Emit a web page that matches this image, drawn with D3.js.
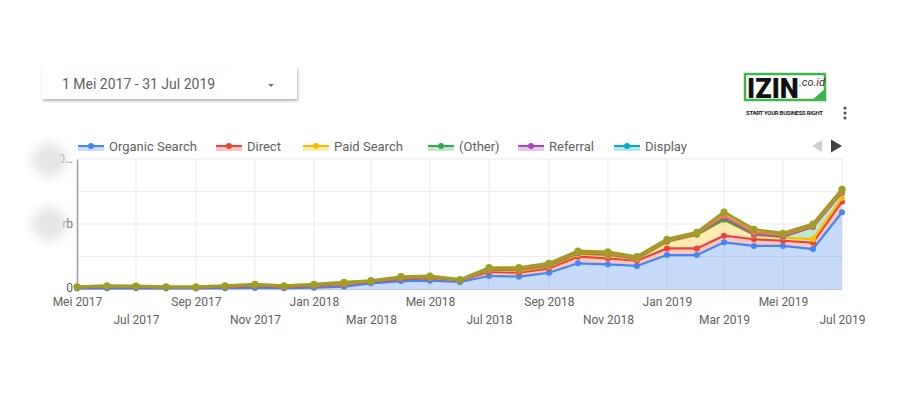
<!DOCTYPE html>
<html>
<head>
<meta charset="utf-8">
<script src="https://cdn.jsdelivr.net/npm/d3@7"></script>
<style>
  body { margin: 0; background: #fff; font-family: Roboto, "Noto Sans", sans-serif; }
  svg { display: block; }
</style>
</head>
<body>
<div class="chart"></div>
<script>
// monthly data, Mei 2017 .. Jul 2019
let months = ["2017-05", "2017-06", "2017-07", "2017-08", "2017-09", "2017-10", "2017-11", "2017-12",
  "2018-01", "2018-02", "2018-03", "2018-04", "2018-05", "2018-06", "2018-07", "2018-08", "2018-09",
  "2018-10", "2018-11", "2018-12", "2019-01", "2019-02", "2019-03", "2019-04", "2019-05", "2019-06", "2019-07"];

let organicSearch = [15, 20, 20, 15, 15, 25, 30, 25, 40, 70, 175, 245, 255, 215, 400, 380, 500, 790, 760, 710, 1045, 1045, 1435, 1325, 1325, 1230, 2360];
let direct = [30, 45, 40, 30, 30, 40, 60, 40, 50, 60, 40, 60, 70, 40, 125, 120, 135, 205, 185, 160, 205, 205, 205, 205, 160, 195, 325];
let paidSearch = [8, 12, 10, 8, 8, 12, 20, 12, 20, 25, 15, 25, 25, 12, 50, 60, 60, 70, 80, 45, 190, 410, 480, 130, 105, 105, 125];
let other = [5, 8, 7, 5, 5, 8, 10, 8, 10, 15, 8, 15, 15, 8, 20, 25, 25, 30, 30, 20, 20, 15, 15, 20, 25, 380, 155];
let referral = [2, 3, 3, 2, 2, 3, 5, 3, 5, 5, 3, 5, 5, 3, 15, 20, 20, 20, 25, 15, 20, 20, 70, 15, 10, 10, 10];
let display = [0, 0, 0, 0, 0, 0, 0, 0, 0, 0, 0, 0, 0, 0, 5, 5, 5, 5, 5, 5, 5, 5, 40, 35, 30, 15, 15];
let social = [0, 0, 0, 0, 0, 0, 0, 0, 0, 0, 0, 0, 0, 0, 0, 0, 0, 0, 0, 0, 0, 0, 10, 10, 5, 5, 5];
let email = [10, 12, 12, 10, 10, 12, 20, 12, 20, 30, 14, 30, 30, 12, 40, 45, 45, 50, 55, 40, 45, 45, 115, 95, 55, 60, 75];

let seriesNames = ["Organic Search", "Direct", "Paid Search", "(Other)", "Referral", "Display", "Social", "Email"];
let seriesValues = [organicSearch, direct, paidSearch, other, referral, display, social, email];
let colors = ["#4285f4", "#ea4335", "#fbbc04", "#34a853", "#ab47bc", "#00acc1", "#ff7043", "#9e9d24"];
let legendShown = 6; // the legend only has room for the first six

let yTicks = [0, 2000, 4000];
let yTickLabels = ["0", "2 rb", "4,0\u2026"];
let xTickLabels = ["Mei 2017", "Jul 2017", "Sep 2017", "Nov 2017", "Jan 2018", "Mar 2018", "Mei 2018", "Jul 2018",
  "Sep 2018", "Nov 2018", "Jan 2019", "Mar 2019", "Mei 2019", "Jul 2019"];

let W = 917, H = 419;
let margin = { top: 159, right: 75, bottom: 130, left: 77 };
let width = W - margin.left - margin.right;
let height = H - margin.top - margin.bottom;

let parse = d3.timeParse("%Y-%m");
let rows = months.map((m, i) => {
  let r = { date: parse(m) };
  seriesNames.forEach((s, k) => { r[s] = seriesValues[k][i]; });
  return r;
});

let svg = d3.select('.chart').append('svg')
  .attr('width', W).attr('height', H);

let defs = svg.append('defs');
defs.append('filter').attr('id', 'blur').attr('x', '-1').attr('y', '-1').attr('width', '3').attr('height', '3')
  .append('feGaussianBlur').attr('stdDeviation', 6);
defs.append('filter').attr('id', 'blur2').attr('x', '-1').attr('y', '-1').attr('width', '3').attr('height', '3')
  .append('feGaussianBlur').attr('stdDeviation', 2.5);
let sh = defs.append('filter').attr('id', 'shadow').attr('x', '-0.1').attr('y', '-0.3').attr('width', '1.2').attr('height', '1.8');
sh.append('feDropShadow').attr('dx', 1).attr('dy', 2).attr('stdDeviation', 1.5).attr('flood-color', '#000').attr('flood-opacity', 0.3);

// date range box
let box = svg.append('g');
box.append('rect').attr('x', 42).attr('y', 67).attr('width', 255).attr('height', 32)
  .attr('fill', '#fff').attr('filter', 'url(#shadow)');
box.append('text').attr('x', 62).attr('y', 89).attr('font-size', 14).attr('fill', '#616161')
  .text('1 Mei 2017 - 31 Jul 2019');
box.append('path').attr('d', 'M268,84 l6,0 l-3,3 z').attr('fill', '#757575');

// logo
let logo = svg.append('g');
logo.append('rect').attr('x', 745).attr('y', 74).attr('width', 80).attr('height', 26)
  .attr('fill', '#fff').attr('stroke', '#3cb64a').attr('stroke-width', 2.5);
logo.append('path').attr('d', 'M812,100 l14,0 l0,-12 z').attr('fill', '#3cb64a');
logo.append('text').attr('x', 747).attr('y', 98).attr('font-size', 27).attr('font-weight', 900)
  .attr('font-family', 'Roboto, sans-serif').attr('fill', '#111').text('IZIN');
logo.append('text').attr('x', 799).attr('y', 86).attr('font-size', 11).attr('fill', '#333')
  .attr('font-style', 'italic').text('.co.id');
logo.append('text').attr('x', 746).attr('y', 115).attr('font-size', 6).attr('font-weight', 700)
  .attr('textLength', 77).attr('fill', '#222').text('START YOUR BUSINESS RIGHT');
[108, 113, 118].forEach(y => logo.append('circle').attr('cx', 845).attr('cy', y).attr('r', 1.6).attr('fill', '#555'));

// scales
let x = d3.scaleTime()
  .domain([rows[0].date, rows[rows.length - 1].date])
  .range([margin.left, margin.left + width]);
let y = d3.scaleLinear().domain([0, 4000]).range([margin.top + height, margin.top]);

let stack = d3.stack().keys(seriesNames);
let layers = stack(rows);

// grid
let g = svg.append('g');
g.append('g').selectAll('line').data([1000, 2000, 3000, 4000]).join('line')
  .attr('x1', margin.left).attr('x2', margin.left + width)
  .attr('y1', d => y(d)).attr('y2', d => y(d))
  .attr('stroke', '#ebebeb');
let tickDates = rows.filter((r, i) => i % 2 === 0).map(r => r.date);
g.append('g').selectAll('line').data(tickDates.slice(1)).join('line')
  .attr('x1', d => x(d)).attr('x2', d => x(d))
  .attr('y1', margin.top).attr('y2', margin.top + height)
  .attr('stroke', '#ebebeb');

// areas and lines
let area = d3.area().x(d => x(d.data.date)).y0(d => y(d[0])).y1(d => y(d[1]));
let line = d3.line().x(d => x(d.data.date)).y(d => y(d[1]));

g.append('g').selectAll('path').data(layers).join('path')
  .attr('d', area).attr('fill', (d, i) => colors[i]).attr('fill-opacity', 0.3);

// axes
let yAxis = d3.axisLeft(y).tickValues(yTicks).tickSize(0).tickFormat((d, i) => yTickLabels[i]);
let ya = svg.append('g').attr('transform', `translate(${margin.left},0)`).call(yAxis);
ya.select('.domain').attr('stroke', '#9e9e9e').attr('stroke-width', 1.5);
ya.selectAll('text').attr('font-size', 12).attr('fill', '#616161').attr('dx', '-1')
  .attr('font-family', 'Roboto, sans-serif');
ya.selectAll('text').filter((d, i) => i === 0).attr('dy', '0.2em');

// blurred spots over the head of the y labels
[[49, 160], [49, 224]].forEach(p => {
  svg.append('ellipse').attr('cx', p[0]).attr('cy', p[1]).attr('rx', 17).attr('ry', 16)
    .attr('fill', '#e4e4e4').attr('filter', 'url(#blur)');
  svg.append('ellipse').attr('cx', p[0] + 2).attr('cy', p[1]).attr('rx', 10).attr('ry', 11)
    .attr('fill', '#e6e6e6').attr('filter', 'url(#blur2)');
});

svg.append('line').attr('x1', margin.left).attr('x2', margin.left + width)
  .attr('y1', y(0) + 0.5).attr('y2', y(0) + 0.5).attr('stroke', '#c8c8c8');

let lg = svg.append('g');
layers.forEach((layer, i) => {
  let sg = lg.append('g');
  sg.append('path').datum(layer).attr('d', line).attr('fill', 'none')
    .attr('stroke', colors[i]).attr('stroke-width', i === 7 ? 3 : 2.2);
  sg.selectAll('circle').data(layer).join('circle')
    .attr('cx', d => x(d.data.date)).attr('cy', d => y(d[1]))
    .attr('r', i === 7 ? 3.6 : 3).attr('fill', colors[i]);
});

let xAxis = d3.axisBottom(x).tickValues(tickDates).tickSize(0)
  .tickFormat((d, i) => xTickLabels[i]);
let xa = svg.append('g').attr('transform', `translate(0,${y(0)})`).call(xAxis);
xa.select('.domain').remove();
xa.selectAll('text').attr('font-size', 12).attr('fill', '#616161')
  .attr('font-family', 'Roboto, sans-serif')
  .attr('y', (d, i) => i % 2 === 0 ? 8 : 26);

// legend
let legendX = [78, 216, 303, 428, 518, 614];
let leg = svg.append('g');
seriesNames.slice(0, legendShown).forEach((s, i) => {
  let it = leg.append('g').attr('transform', `translate(${legendX[i]},146)`);
  it.append('rect').attr('x', 0).attr('y', 0).attr('width', 26).attr('height', 5)
    .attr('fill', colors[i]).attr('fill-opacity', 0.3);
  it.append('line').attr('x1', 0).attr('x2', 26).attr('y1', 0).attr('y2', 0)
    .attr('stroke', colors[i]).attr('stroke-width', 2);
  it.append('circle').attr('cx', 13).attr('cy', 0).attr('r', 3).attr('fill', colors[i]);
  it.append('text').attr('x', 31).attr('y', 4.5).attr('font-size', 13).attr('fill', '#616161').text(s);
});
leg.append('path').attr('d', 'M812,146 l10,-6 l0,12 z').attr('fill', '#cfcfcf');
leg.append('path').attr('d', 'M842,146 l-11,-6.5 l0,13 z').attr('fill', '#424242');
</script>
</body>
</html>
